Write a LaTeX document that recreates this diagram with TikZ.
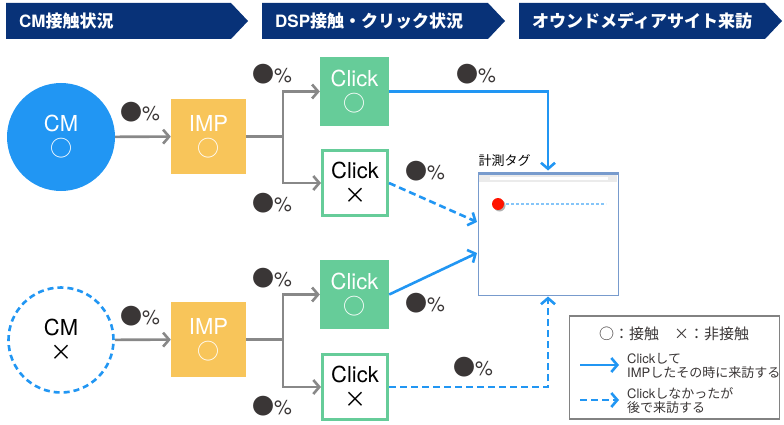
\documentclass[tikz,border=0pt]{standalone}
\usepackage{fontspec}
\setmainfont{Noto Sans CJK JP}
\newfontfamily\latinfont{TeX Gyre Heros}
\usetikzlibrary{arrows.meta,calc}

\definecolor{navy}{RGB}{8,50,120}
\definecolor{cmblue}{RGB}{33,150,243}
\definecolor{impyellow}{RGB}{248,197,90}
\definecolor{clickgreen}{RGB}{102,204,153}
\definecolor{flowgray}{RGB}{136,136,136}
\definecolor{dotgray}{RGB}{58,54,54}
\definecolor{framegray}{RGB}{130,130,130}
\definecolor{tabblue}{RGB}{120,155,205}

\newcommand{\pctmark}{{\fontsize{22}{22}\selectfont ●}{\latinfont\%}}

\tikzset{
  head/.style={text=white, font=\bfseries\fontsize{17}{17}\selectfont, inner sep=0pt},
  stagebox/.style={inner sep=0pt, align=center, text=white, font=\fontsize{22}{25}\selectfont},
  flow/.style={draw=flowgray, line width=2.6pt, -{Straight Barb[length=6pt,width=14pt]}},
  visit/.style={draw=cmblue, line width=2.6pt, -{Straight Barb[length=6pt,width=14pt]}},
  later/.style={visit, dash pattern=on 7pt off 4pt},
  pct/.style={text=dotgray, font=\fontsize{20}{20}\selectfont, inner sep=0pt},
  legtext/.style={text=dotgray, align=left, inner sep=0pt, font=\fontsize{13}{14}\selectfont}
}

\begin{document}
\begin{tikzpicture}[x=1pt,y=-1pt]
	\useasboundingbox (0,0) rectangle (784,425);

	% stage banners
	\foreach \x/\r/\t [count=\i] in {6/248/{{\latinfont CM}接触状況}, 262/505/{{\latinfont DSP}接触・クリック状況}, 519/782/オウンドメディアサイト来訪}
	{
		\fill[navy] (\x,3) -- (\r-17,3) -- (\r,21) -- (\r-17,39) -- (\x,39) -- cycle;
		\node[head, anchor=west] (h\i) at (\x+13,21) {\t};
	}

	% CM
	\node[stagebox, circle, fill=cmblue, minimum size=108pt] (cm1) at (61,137) {{\latinfont CM}\\○};
	\node[stagebox, circle, draw=cmblue, line width=2.6pt, dash pattern=on 6pt off 4pt, text=black, minimum size=105pt] (cm2) at (61,340) {{\latinfont CM}\\×};

	% IMP
	\begin{scope}[every node/.style={stagebox, fill=impyellow, minimum size=75pt}]
		\node (imp1) at (208.5,136.5) {{\latinfont IMP}\\○};
		\node (imp2) at (208.5,339.5) {{\latinfont IMP}\\○};
	\end{scope}

	% Click
	\begin{scope}[every node/.style={stagebox, fill=clickgreen, minimum size=69pt}]
		\node (c1) at (354.5,91.5) {{\latinfont Click}\\○};
		\node (c2) at (354.5,294.5) {{\latinfont Click}\\○};
	\end{scope}
	\begin{scope}[every node/.style={stagebox, fill=white, draw=clickgreen, line width=3pt, text=black, minimum size=65pt}]
		\node (cx1) at (355,183) {{\latinfont Click}\\×};
		\node (cx2) at (355,387) {{\latinfont Click}\\×};
	\end{scope}

	% browser with tag
	\node[draw=tabblue, line width=1pt, minimum width=140pt, minimum height=123pt, inner sep=0pt] (tag) at (548,233.5) {};
	\node[anchor=south west, inner sep=0pt, font=\fontsize{13}{13}\selectfont] (taglabel) at ($(tag.north west)+(1,-5)$) {計測タグ};
	\fill[tabblue] (tag.north west) rectangle ++(140,3);
	\fill[black!8] ($(tag.north west)+(1,3)$) rectangle ++(138,7);
	\fill[white] ($(tag.north west)+(12,5)$) rectangle ++(118,3);
	\fill[black!30] (499.5,205.5) circle (6pt);
	\fill[red!85!orange] (498,204) circle (6pt);
	\coordinate (dot) at (498,204);
	\coordinate (dotend) at (606,204);
	\draw[cmblue!55, line width=1.6pt, dash pattern=on 3pt off 2pt] ($(dot)+(8,0)$) -- (dotend);

	% branch points and inlets
	\coordinate (br1) at (283,136.5);
	\coordinate (br2) at (283,339.5);
	\coordinate (in1) at (477,222);
	\coordinate (in2) at (477,253);

	% flows
	\draw[flow] (cm1) -- (imp1);
	\draw[flow] (cm2) -- (imp2);
	\draw[flow, -] (imp1) -- (br1);
	\draw[flow, -] (imp2) -- (br2);
	\draw[flow] (br1) |- (c1);
	\draw[flow] (br1) |- (cx1);
	\draw[flow] (br2) |- (c2);
	\draw[flow] (br2) |- (cx2);

	\draw[visit] (c1.east) -| ([yshift=1pt]tag.north);
	\draw[later] (cx1.east) -- (in1);
	\draw[visit] (c2.east) -- (in2);
	\draw[later] (cx2.east) -| ([yshift=-1pt]tag.south);

	% percentages
	\foreach \p [count=\i] in {(140,112),(272,74),(272,203),(476,74),(425,171),(140,316),(272,278),(272,406),(425,303),(473,367)}
		\node[pct] (p\i) at \p {\pctmark};

	% legend
	\node[draw=framegray, line width=1.5pt, minimum width=210pt, minimum height=103pt, inner sep=0pt] (lg) at (674.5,367.5) {};
	\node[text=dotgray, inner sep=0pt, font=\fontsize{15}{15}\selectfont] (lgkey) at (674,334) {○：接触　×：非接触};
	\coordinate (la1) at (580,365);
	\coordinate (lb1) at (619,365);
	\coordinate (la2) at (580,400);
	\coordinate (lb2) at (619,400);
	\draw[visit] (la1) -- (lb1);
	\draw[later] (la2) -- (lb2);
	\node[legtext, anchor=west] (lt1) at (627,366) {{\latinfont Click}して\\{\latinfont IMP}したその時に来訪する};
	\node[legtext, anchor=west] (lt2) at (627,401) {{\latinfont Click}しなかったが\\後で来訪する};

\end{tikzpicture}
\end{document}
